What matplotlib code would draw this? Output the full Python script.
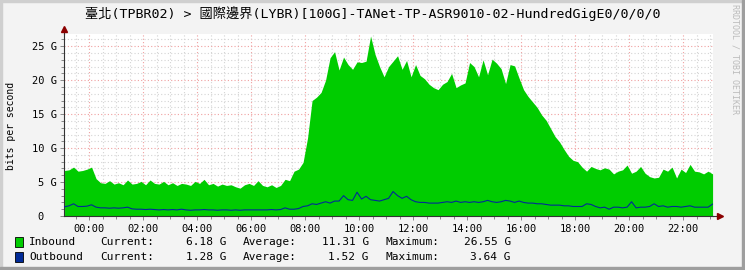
import matplotlib
matplotlib.use("Agg")
import matplotlib.pyplot as plt
import numpy as np
from matplotlib.patches import Rectangle

# traffic samples, 10 minute steps starting 23:05 of the previous day (G bits/s)
inbound = [6.7, 6.8, 7.2, 6.6, 6.7, 6.9, 7.2, 5.5, 4.9, 4.8,
           5.2, 4.7, 4.9, 4.6, 5.3, 4.7, 4.8, 5.1, 4.6, 5.3,
           4.8, 4.7, 5.1, 4.6, 4.9, 4.5, 4.8, 4.7, 4.5, 5.1,
           4.8, 5.4, 4.6, 4.8, 4.4, 4.7, 4.5, 4.6, 4.3, 4.1,
           4.6, 4.8, 4.5, 5.2, 4.5, 4.3, 4.6, 4.2, 4.5, 5.4,
           5.2, 6.6, 6.9, 7.9, 11.5, 17.0, 17.5, 18.2, 20.0, 23.3,
           24.2, 21.5, 23.4, 22.3, 21.6, 22.7, 22.6, 22.8, 26.5, 23.8,
           22.0, 20.5, 22.0, 22.8, 23.6, 21.6, 22.9, 20.5, 22.3, 20.7,
           20.2, 19.4, 18.9, 18.6, 19.4, 19.8, 21.0, 18.9, 19.3, 19.6,
           22.6, 22.0, 20.5, 23.0, 20.8, 23.1, 22.5, 21.7, 19.5, 22.3,
           22.1, 20.3, 18.6, 17.6, 16.8, 16.0, 14.9, 14.1, 12.9, 11.7,
           10.9, 9.8, 8.8, 8.2, 8.0, 7.2, 6.6, 7.3, 7.0, 6.8,
           7.1, 6.9, 6.2, 6.6, 6.8, 7.5, 6.3, 6.6, 7.3, 6.3,
           5.8, 5.6, 5.7, 6.9, 6.6, 7.2, 5.6, 6.9, 6.4, 7.6,
           6.6, 6.5, 6.2, 6.6, 6.2]
outbound = [1.35, 1.5, 1.8, 1.4, 1.4, 1.45, 1.65, 1.3, 1.2, 1.2,
            1.15, 1.2, 1.15, 1.2, 1.3, 1.05, 1.0, 1.0, 0.95, 1.0,
            0.95, 0.9, 0.95, 0.9, 0.95, 0.9, 1.0, 0.9, 0.85, 0.9,
            0.9, 0.95, 0.9, 0.9, 0.85, 0.9, 0.9, 0.85, 0.9, 0.85,
            0.9, 0.9, 0.9, 0.9, 0.9, 0.9, 0.95, 0.9, 0.95, 1.2,
            1.0, 1.0, 1.1, 1.4, 1.5, 1.8, 1.7, 1.9, 2.1, 1.9,
            2.2, 2.2, 3.0, 2.4, 2.3, 3.5, 2.5, 2.9, 2.4, 2.3,
            2.2, 2.4, 2.6, 3.6, 3.0, 2.6, 2.9, 2.4, 2.1, 2.0,
            2.0, 1.9, 1.9, 1.9, 2.0, 2.1, 2.0, 2.2, 2.0, 2.1,
            2.0, 2.1, 2.0, 2.1, 2.3, 2.1, 2.0, 2.1, 2.3, 2.2,
            2.0, 2.2, 2.0, 1.9, 1.9, 1.8, 1.8, 1.7, 1.6, 1.6,
            1.6, 1.5, 1.5, 1.4, 1.4, 1.4, 1.8, 1.7, 1.4, 1.2,
            1.3, 1.0, 1.3, 1.3, 1.2, 1.3, 2.1, 1.2, 1.3, 1.3,
            1.4, 1.8, 1.4, 1.5, 1.3, 1.4, 1.4, 1.3, 1.4, 1.5,
            1.3, 1.3, 1.3, 1.3, 1.75]
hours = np.arange(len(inbound)) * 10 / 60 - 55 / 60

xtick_hours = list(range(0, 24, 2))
xtick_labels = ["%02d:00" % h for h in xtick_hours]
ytick_vals = [0, 5, 10, 15, 20, 25]

title = "臺北(TPBR02) > 國際邊界(LYBR)[100G]-TANet-TP-ASR9010-02-HundredGigE0/0/0/0"
series_names = ["Inbound", "Outbound"]
current = ["6.18 G", "1.28 G"]
average = ["11.31 G", "1.52 G"]
maximum = ["26.55 G", "3.64 G"]

GREEN = "#00CC00"
BLUE = "#002A97"
MONO = ["DejaVu Sans Mono", "Noto Sans CJK TC"]

W, H = 745, 270
fig = plt.figure(figsize=(W / 100, H / 100), dpi=100)
fig.patch.set_facecolor("#F3F3F3")

# frame shading like rrdtool
fig.patches.append(Rectangle((0, 0), 2 / W, 1, transform=fig.transFigure, color="#CFCFCF", zorder=0))
fig.patches.append(Rectangle((0, 1 - 2 / H), 1, 2 / H, transform=fig.transFigure, color="#CFCFCF", zorder=0))
fig.patches.append(Rectangle((1 - 3 / W, 0), 3 / W, 1, transform=fig.transFigure, color="#9E9E9E", zorder=0))
fig.patches.append(Rectangle((0, 0), 1, 3 / H, transform=fig.transFigure, color="#9E9E9E", zorder=0))

ax = fig.add_axes([64.3 / W, 1 - 216 / H, 649 / W, 182 / H])
ax.set_facecolor("white")
ax.fill_between(hours, inbound, color=GREEN, linewidth=0, zorder=2)
ax.plot(hours, outbound, color=BLUE, linewidth=0.8, zorder=3)

ax.set_xlim(-0.926, 23.11)
ax.set_ylim(0, 26.8)

ax.set_xticks(xtick_hours)
ax.set_xticklabels(xtick_labels)
ax.set_xticks(np.arange(-0.5, 23.2, 0.5), minor=True)
ax.set_yticks(ytick_vals)
ax.set_yticklabels([("%d G" % v) if v else "0  " for v in ytick_vals])
ax.set_yticks(np.arange(0, 27, 1), minor=True)

ax.grid(which="minor", color="#D4D4D4", linestyle=(0, (1, 2)), linewidth=0.8)
ax.grid(which="major", color="#F0A0A0", linestyle=(0, (1, 2)), linewidth=0.8)
ax.set_axisbelow(True)

for lab in ax.get_xticklabels() + ax.get_yticklabels():
    lab.set_family(MONO)
    lab.set_fontsize(7.5)
ax.tick_params(which="both", direction="out", color="#777777", width=0.6)
ax.tick_params(which="major", length=3, pad=2.5)
ax.tick_params(which="minor", length=2)

for s in ["top", "right"]:
    ax.spines[s].set_visible(False)
for s in ["left", "bottom"]:
    ax.spines[s].set_color("#333333")
    ax.spines[s].set_linewidth(0.8)

# axis arrows
ax.plot([0, 0], [1, 1.025], transform=ax.transAxes, color="#333333", lw=0.8, clip_on=False)
ax.plot([0], [1.03], marker="^", markersize=4, color="#8B0000", transform=ax.transAxes, clip_on=False)
ax.plot([1, 1.008], [0, 0], transform=ax.transAxes, color="#333333", lw=0.8, clip_on=False)
ax.plot([1.01], [0], marker=">", markersize=4, color="#8B0000", transform=ax.transAxes, clip_on=False)

fig.text(372.5 / W, 1 - 14 / H, title, family=MONO, fontsize=9.5, ha="center", va="center")
fig.text(11 / W, 1 - 126 / H, "bits per second", family=MONO, fontsize=7, rotation=90,
         ha="center", va="center")
fig.text(735 / W, 1 - 59 / H, "RRDTOOL / TOBI OETIKER", family=MONO, fontsize=6,
         rotation=270, ha="center", va="center", color="#BBBBBB")

colors = [GREEN, BLUE]
for i, name in enumerate(series_names):
    yc = 1 - (242 + 15 * i) / H
    fig.patches.append(Rectangle((15 / W, yc - 5 / H), 8 / W, 10 / H, transform=fig.transFigure,
                                 facecolor=colors[i], edgecolor="black", linewidth=0.6))
    kw = dict(family=MONO, fontsize=8, va="center")
    fig.text(29 / W, yc, name, **kw)
    fig.text(100 / W, yc, "Current:", **kw)
    fig.text(227 / W, yc, current[i], ha="right", **kw)
    fig.text(243 / W, yc, "Average:", **kw)
    fig.text(369 / W, yc, average[i], ha="right", **kw)
    fig.text(386 / W, yc, "Maximum:", **kw)
    fig.text(511 / W, yc, maximum[i], ha="right", **kw)

fig.savefig("out.png", dpi=100, facecolor=fig.get_facecolor())
